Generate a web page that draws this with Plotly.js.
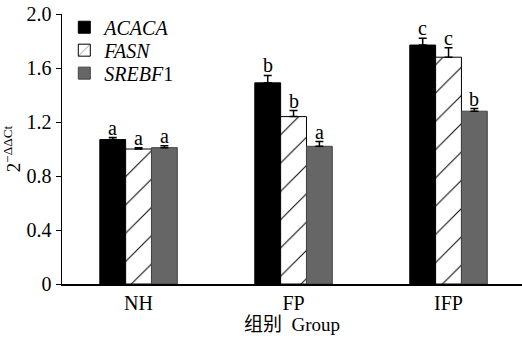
<!DOCTYPE html>
<html><head><meta charset="utf-8">
<script src="https://cdn.plot.ly/plotly-3.0.1.min.js"></script>
<style>html,body{margin:0;padding:0;background:#fff}#chart{width:522px;height:342px}</style>
</head><body><div id="chart"></div>
<script>
const groups = ["NH", "FP", "IFP"];
const seriesNames = ["<i>ACACA</i>", "<i>FASN</i>", "<i>SREBF</i>1"];
const acaca = [1.07, 1.49, 1.77];
const fasn = [1.00, 1.24, 1.68];
const srebf1 = [1.01, 1.02, 1.28];
const acacaErr = [0.015, 0.055, 0.05];
const fasnErr = [0.01, 0.045, 0.07];
const srebf1Err = [0.015, 0.035, 0.02];
const acacaSig = ["a", "b", "c"];
const fasnSig = ["a", "b", "c"];
const srebf1Sig = ["a", "a", "b"];
const yTicks = [0, 0.4, 0.8, 1.2, 1.6, 2.0];
const yTickText = ["0", "0.4", "0.8", "1.2", "1.6", "2.0"];

const FONT = "'Liberation Serif', 'Times New Roman', 'DejaVu Serif', serif";
const bargap = 0.5;
const values = [acaca, fasn, srebf1];
const errs = [acacaErr, fasnErr, srebf1Err];
const sigs = [acacaSig, fasnSig, srebf1Sig];
const legendIds = ["legend", "legend2", "legend3"];
const legendY = [0.951, 0.866, 0.781];
const markers = [
  {color: "#000000", line: {color: "#000000", width: 1}},
  {color: "#ffffff", line: {color: "#000000", width: 1},
   pattern: {shape: "/", fgcolor: "#000000", bgcolor: "#ffffff", size: 20, solidity: 0.05}},
  {color: "#666666", line: {color: "#444444", width: 1}}
];
const traces = values.map((v, i) => ({
  type: "bar", x: groups, y: v, name: seriesNames[i], marker: markers[i],
  legend: legendIds[i],
  error_y: {type: "data", array: errs[i], arrayminus: v.map(() => 0), symmetric: false,
            color: "#000000", thickness: 1.5, width: 4},
  hoverinfo: "skip"
}));
const w = (1 - bargap) / 3;
const annotations = [];
values.forEach((v, i) => {
  v.forEach((val, g) => {
    annotations.push({
      x: g + (i - 1) * w, y: val + errs[i][g], xref: "x", yref: "y",
      text: sigs[i][g], showarrow: false, yanchor: "bottom", yshift: -3,
      font: {family: FONT, size: 20, color: "#000"}
    });
  });
});
const layout = {
  width: 522, height: 342,
  margin: {l: 62, r: 0, t: 14, b: 58},
  paper_bgcolor: "#fff", plot_bgcolor: "#fff",
  font: {family: FONT, size: 19, color: "#000"},
  barmode: "group", bargap: bargap, bargroupgap: 0,
  showlegend: true,
  xaxis: {type: "category", range: [-0.494, 2.474], showline: true, linecolor: "#000", linewidth: 1.5,
          ticks: "", showgrid: false, zeroline: false, tickfont: {family: FONT, size: 20},
          title: {text: "组别\u00a0\u00a0Group", font: {family: "'Liberation Serif', 'Noto Sans CJK SC', serif", size: 19}, standoff: 5}},
  yaxis: {range: [0, 2.0], tickvals: yTicks, ticktext: yTickText, showline: true, linecolor: "#000", linewidth: 1.5,
          ticks: "outside", ticklen: 5, tickwidth: 1, tickcolor: "#000", showgrid: false, zeroline: false,
          tickfont: {family: FONT, size: 20},
          title: {text: "2<sup>−ΔΔCt</sup>", font: {family: FONT, size: 19}, standoff: 6}},
  annotations: annotations
};
legendIds.forEach((id, i) => {
  layout[id] = {x: 0.005, y: legendY[i], xanchor: "left", yanchor: "middle", bgcolor: "rgba(0,0,0,0)",
                font: {family: FONT, size: 20}, itemwidth: 30};
});
Plotly.newPlot("chart", traces, layout, {displayModeBar: false, staticPlot: true});
</script></body></html>
